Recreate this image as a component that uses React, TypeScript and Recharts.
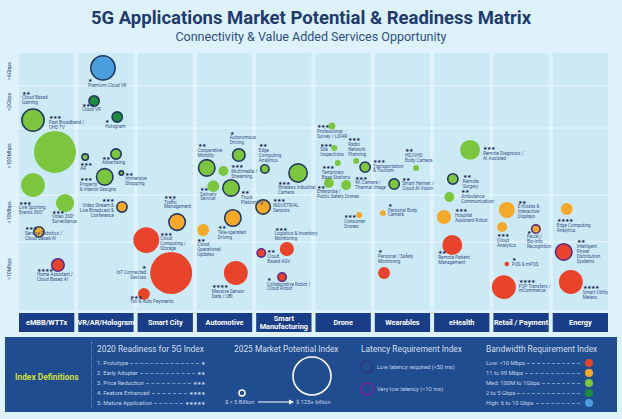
import { ScatterChart, Scatter, XAxis, YAxis, ZAxis, ReferenceArea, ReferenceLine } from "recharts";

const CATEGORIES = [
  "eMBB/WTTx",
  "VR/AR/Hologram",
  "Smart City",
  "Automotive",
  "Smart\nManufacturing",
  "Drone",
  "Wearables",
  "eHealth",
  "Retail / Payment",
  "Energy",
];

// bandwidth rows (vertical scale 0-100, bottom to top)
const BW_TICKS = [16, 38, 60, 81, 93];
const BW_LABELS = ["<10Mbps", ">10Mbps", ">100Mbps", ">2Gbps", ">6Gbps"];
const ROW_BREAKS = [26.5, 44.7, 70.8, 87.2];

const APP_NAMES = [
  "Cloud Based\nGaming", "Fast Broadband /\nUHD TV", "Live Sporting\nEvents 360°", "Video 360°\nSurveillance",
  "Service Robotics /\nCloud Based AI", "Home Assistant /\nCloud Based AI",
  "Premium Cloud VR", "Cloud VR", "Hologram", "AR", "Advertising", "Property\n& Interior Designs",
  "Immersive\nShopping", "Video Stream &\nLive Broadcast &\nConference",
  "Cloud\nComputing /\nStorage", "IoT Connected\nDevices", "Toll & Auto Payments", "Traffic\nManagement",
  "Autonomous\nDriving", "Cooperative\nMobility", "Multimedia /\nStreaming", "Delivery\nService",
  "Truck\nPlatooning", "Tele-operated\nDriving", "Cloud\nOperational\nUpdates", "Massive Sensor\nData / UBI",
  "Edge\nComputing\nAnalytics", "Wireless Industrial\nCamera", "INDUSTRIAL\nSensors",
  "Logistics & Inventory\nMonitoring", "Cloud\nBased AGV", "Collaborative Robot /\nCloud Robot",
  "Professional\nSurvey / LiDAR", "Site\nInspections", "Radio\nNetwork\nPlanning", "Temporary\nBase Stations",
  "Transportation\n& Tourism", "Enterprise /\nPublic Safety Drones", "4K Camera /\nThermal Image", "Consumer\nDrones",
  "HD/UHD\nBody Camera", "Smart Helmet /\nCloud AI Vision", "Personal Body\nCamera", "Personal / Safety\nMonitoring",
  "Remote Diagnosis /\nAI Assisted", "Remote\nSurgery", "Ambulance\nCommunication", "Hospital\nAssistant Robot",
  "Remote Patient\nManagement",
  "E-Kiosks &\nInteractive\nDisplays", "Cloud\nAnalytics", "Facial /\nBio-info\nRecognition", "POS & mPOS",
  "P2P Transfers /\nmCommerce",
  "Edge Computing\nAnalytics", "Intelligent\nPower\nDistribution\nSystems", "Smart Utility\nMeters",
];

// column (category index) of each application
const APP_CAT = [
  0, 0, 0, 0, 0, 0,
  1, 1, 1, 1, 1, 1, 1, 1,
  2, 2, 2, 2,
  3, 3, 3, 3, 3, 3, 3, 3,
  4, 4, 4, 4, 4, 4,
  5, 5, 5, 5, 5, 5, 5, 5,
  6, 6, 6, 6,
  7, 7, 7, 7, 7,
  8, 8, 8, 8, 8,
  9, 9, 9,
];

// place inside the column (0 = left edge, 1 = right edge)
const APP_POS = [
  0.27, 0.64, 0.27, 0.81, 0.37, 0.69,
  0.45, 0.3, 0.69, 0.15, 0.67, 0.48, 0.76, 0.77,
  0.18, 0.6, 0.14, 0.7,
  0.74, 0.2, 0.48, 0.31, 0.61, 0.64, 0.14, 0.69,
  0.18, 0.74, 0.15, 0.55, 0.12, 0.47,
  0.31, 0.35, 0.72, 0.41, 0.87, 0.26, 0.55, 0.77,
  0.73, 0.36, 0.17, 0.19,
  0.64, 0.35, 0.29, 0.2, 0.34,
  0.26, 0.18, 0.75, 0.26, 0.21,
  0.27, 0.22, 0.34,
];

// bandwidth position (0-100)
const APP_Y = [
  73.9, 61.5, 48.6, 41.6, 30.4, 17.5,
  94.2, 81.3, 75.1, 59.5, 60.7, 51.8, 53.3, 40.1,
  27.2, 14.4, 6.2, 34.2,
  60.3, 55.3, 54.1, 48.2, 47.5, 35.8, 31.1, 14.4,
  54.9, 53.3, 40.1, 23.7, 22.2, 12.8,
  71.6, 63.0, 58.0, 57.2, 55.6, 49.4, 48.6, 37.0,
  55.3, 49.0, 37.7, 14.4,
  62.3, 51.0, 44.0, 36.2, 25.3,
  38.9, 32.3, 31.5, 17.9, 8.9,
  39.3, 22.6, 10.9,
];

// 2025 market potential, $ billion
const APP_MARKET = [
  40, 124, 40, 23, 10, 14,
  47, 10, 10, 4.5, 10, 23, 2.5, 10,
  47, 124, 10, 23,
  14, 23, 7, 10, 23, 23, 10, 40,
  7, 28, 18, 14, 7, 7,
  3.5, 2.5, 2.5, 2.5, 10, 7, 7, 2.5,
  2.5, 10, 2.5, 10,
  28, 10, 7, 14, 28,
  18, 7, 7, 1.5, 40,
  10, 23, 40,
];

// 2020 readiness (number of stars)
const APP_READY = [
  2, 3, 3, 3, 3, 4,
  1, 3, 1, 3, 2, 3, 2, 3,
  3, 1, 3, 3,
  1, 2, 3, 2, 2, 2, 2, 4,
  2, 3, 3, 3, 2, 1,
  3, 3, 3, 3, 3, 2, 3, 3,
  2, 2, 1, 1,
  3, 2, 2, 3, 2,
  2, 3, 1, 1, 4,
  4, 2, 4,
];

// bandwidth class: 0 low, 1 11-99M, 2 med, 3 2-5G, 4 high
const APP_BW = [
  2, 2, 2, 2, 1, 0,
  4, 3, 3, 2, 2, 2, 2, 1,
  0, 0, 0, 1,
  2, 2, 2, 2, 2, 1, 1, 0,
  2, 2, 1, 0, 0, 0,
  2, 2, 2, 2, 2, 2, 2, 1,
  2, 2, 1, 0,
  2, 2, 2, 1, 0,
  1, 1, 1, 0, 0,
  1, 0, 0,
];

// latency: 0 none, 1 low (<50ms), 2 very low (<10ms)
const APP_LAT = [
  1, 0, 0, 0, 1, 2,
  1, 1, 1, 1, 1, 1, 1, 1,
  0, 0, 0, 1,
  1, 1, 0, 0, 1, 1, 0, 0,
  1, 1, 1, 0, 2, 2,
  0, 0, 0, 0, 1, 0, 0, 0,
  0, 1, 0, 0,
  0, 1, 0, 0, 0,
  0, 0, 2, 0, 0,
  0, 2, 0,
];

// label offset from bubble centre [dx, dy, anchor]
const LABEL_LAYOUT: [number, number, string][] = [
  [-11, -27, "start"], [-6, -34, "start"], [-14, 18, "start"], [-13, 9, "start"], [-14, -3, "start"], [-21, 5, "start"],
  [-15, 13, "start"], [-12, 4, "start"], [-12, 5, "start"], [-5, 7, "start"], [-14, 4, "start"], [-25, 3, "start"],
  [4, 1, "start"], [-8, -6, "end"],
  [14, -6, "start"], [-25, -5, "end"], [-14, 3, "start"], [-13, -25, "start"],
  [-9, -22, "start"], [-9, -22, "start"], [8, -4, "start"], [-13, 3, "start"], [10, 5, "start"], [-15, 10, "start"],
  [-6, 10, "start"], [-24, 14, "start"],
  [-6, -23, "start"], [-20, 10, "start"], [10, -6, "start"], [-12, -20, "start"], [6, -1, "start"], [-15, 2, "start"],
  [-15, 1, "start"], [-14, -3, "start"], [-8, -21, "start"], [-16, 5, "start"], [8, -6, "start"], [-12, 4, "start"],
  [9, -7, "start"], [-15, 2, "start"],
  [-11, -17, "start"], [8, -5, "start"], [5, -8, "start"], [-6, -21, "start"],
  [13, -1, "start"], [10, -2, "start"], [12, -5, "start"], [11, -6, "start"], [-14, 8, "start"],
  [11, -8, "start"], [-5, 9, "start"], [-9, 3, "start"], [5, -4, "start"], [15, -6, "start"],
  [-10, 12, "start"], [13, -10, "start"], [12, 6, "start"],
];

const READINESS_ROWS = ["1. Prototype", "2. Early Adopter", "3. Price Reduction", "4. Feature Enhanced", "5. Mature Application"];
const BANDWIDTH_ROWS = ["Low: <10 Mbps", "11 to 99 Mbps", "Med: 100M to 1Gbps", "2 to 5 Gbps", "High: 6 to 10 Gbps"];

const BW_COLORS = ["#e8432b", "#f5a92a", "#7cc63f", "#1f8b3c", "#4b9fdc"];
const LAT_STROKE = ["", "#253863", "#5e2b86"];
const NAVY = "#1e3b6d";
const COL_BG = "#cce9f6";
const PAGE_BG = "#def2fb";
const BOX_BLUE = "#193e87";
const PANEL_BLUE = "#1f4d90";
const PANEL_TEXT = "#c6d3e8";

const PLOT_BOTTOM = 310;
const COL_W = 59.3;
const FONT = "Roboto, 'Noto Sans', sans-serif";

const points = APP_NAMES.map((name, i) => ({
  i,
  name,
  x: APP_CAT[i] + APP_POS[i],
  y: APP_Y[i],
  z: APP_MARKET[i],
  stars: APP_READY[i],
  bw: APP_BW[i],
  lat: APP_LAT[i],
}));

function Bubble(props: any) {
  const { cx, cy, width, payload } = props;
  const r = width / 2;
  const stroke = LAT_STROKE[payload.lat];
  return (
    <circle
      cx={cx}
      cy={cy}
      r={stroke ? r - 0.8 : r}
      fill={BW_COLORS[payload.bw]}
      stroke={stroke || "none"}
      strokeWidth={stroke ? 1.6 : 0}
    />
  );
}

function AppLabel(props: any) {
  const { cx, cy, payload } = props;
  const [dx, dy, anchor] = LABEL_LAYOUT[payload.i];
  const lines = payload.name.split("\n");
  const tx = cx + dx;
  return (
    <g fontFamily={FONT}>
      <text x={tx} y={cy + dy} textAnchor={anchor} dominantBaseline="central" fontSize={4.6} fill="#1c2a52">
        {"★".repeat(payload.stars)}
      </text>
      {lines.map((l: string, k: number) => (
        <text key={k} x={tx} y={cy + dy + 4.9 * (k + 1)} textAnchor={anchor} dominantBaseline="central" fontSize={4.6} fill="#3a5588">
          {l}
        </text>
      ))}
    </g>
  );
}

function CategoryTick(props: any) {
  const { x, payload } = props;
  const idx = Math.round(payload.value - 0.5);
  const lines = CATEGORIES[idx].split("\n");
  const w = COL_W - 4;
  const top = PLOT_BOTTOM + 3;
  return (
    <g>
      <rect x={x - w / 2} y={top} width={w} height={19} fill={BOX_BLUE} />
      {lines.map((l, k) => (
        <text
          key={k}
          x={x}
          y={top + 9.5 + (k - (lines.length - 1) / 2) * 8}
          textAnchor="middle"
          dominantBaseline="central"
          fontSize={7.3}
          fontWeight={700}
          fill="#ffffff"
          fontFamily={FONT}
        >
          {l}
        </text>
      ))}
    </g>
  );
}

function BwTick(props: any) {
  const { y, payload } = props;
  const idx = BW_TICKS.indexOf(payload.value);
  return (
    <text
      x={9}
      y={y}
      transform={`rotate(-90, 9, ${y})`}
      textAnchor="middle"
      dominantBaseline="central"
      fontSize={5.3}
      fill="#2c4a7a"
      fontFamily={FONT}
    >
      {BW_LABELS[idx]}
    </text>
  );
}

function Legend() {
  const small = { position: "absolute" as const, fontSize: 5.8, color: PANEL_TEXT, lineHeight: "8px", whiteSpace: "nowrap" as const };
  const head = { position: "absolute" as const, fontSize: 8.4, color: "#d4deec", top: 7, whiteSpace: "nowrap" as const };
  const leader = { flex: 1, borderBottom: "1px dashed rgba(200,215,235,0.55)", margin: "0 2px", height: 0 };
  return (
    <div
      style={{
        position: "absolute",
        left: 5,
        top: 337,
        width: 612,
        height: 75,
        background: PANEL_BLUE,
        fontFamily: FONT,
      }}
    >
      <div style={{ position: "absolute", left: 10, top: 35, fontSize: 8.4, fontWeight: 700, color: "#cfdf3a", whiteSpace: "nowrap" }}>
        Index Definitions
      </div>
      <div style={{ position: "absolute", left: 86, top: 5, height: 66, borderLeft: "1px dotted rgba(190,205,230,0.5)" }} />

      <div style={{ ...head, left: 92 }}>2020 Readiness for 5G Index</div>
      {READINESS_ROWS.map((t, k) => (
        <div key={t} style={{ ...small, left: 92, top: 22 + k * 10, width: 108, display: "flex", alignItems: "center" }}>
          <span>{t}</span>
          <span style={leader} />
          <span style={{ fontSize: 5 }}>{"★".repeat(k + 1)}</span>
        </div>
      ))}

      <div style={{ ...head, left: 229 }}>2025 Market Potential Index</div>
      <svg style={{ position: "absolute", left: 0, top: 0 }} width={612} height={75}>
        <circle cx={237} cy={56} r={3} fill="none" stroke="#ffffff" strokeWidth={1.5} />
        <circle cx={307} cy={39} r={19} fill="none" stroke="#ffffff" strokeWidth={1.6} />
        <line x1={253} y1={65} x2={284} y2={65} stroke="#ffffff" strokeWidth={1} />
        <path d="M284,62.5 L289,65 L284,67.5 Z" fill="#ffffff" />
        <circle cx={362} cy={30} r={6} fill="none" stroke="#2e3a80" strokeWidth={2} />
        <circle cx={362} cy={52} r={6} fill="none" stroke="#6a2c9c" strokeWidth={2} />
        {BW_COLORS.map((c, k) => (
          <circle key={c} cx={584} cy={26 + k * 10} r={4} fill={c} />
        ))}
      </svg>
      <div style={{ ...small, left: 220, top: 61 }}>$ &lt; 5 Billion</div>
      <div style={{ ...small, left: 291, top: 61 }}>$ 125+ billion</div>

      <div style={{ ...head, left: 356 }}>Latency Requirement Index</div>
      <div style={{ ...small, left: 372, top: 26 }}>Low latency required (&lt;50 ms)</div>
      <div style={{ ...small, left: 372, top: 48 }}>Very low latency (&lt;10 ms)</div>

      <div style={{ ...head, left: 481 }}>Bandwidth Requirement Index</div>
      {BANDWIDTH_ROWS.map((t, k) => (
        <div key={t} style={{ ...small, left: 481, top: 22 + k * 10, width: 96, display: "flex", alignItems: "center" }}>
          <span>{t}</span>
          <span style={leader} />
        </div>
      ))}
    </div>
  );
}

export default function App() {
  return (
    <div style={{ position: "relative", width: 622, height: 419, background: PAGE_BG, fontFamily: FONT, overflow: "hidden" }}>
      <style>{"body{margin:0}"}</style>
      <div style={{ position: "absolute", top: 7, width: 622, textAlign: "center", fontSize: 18.5, fontWeight: 700, color: NAVY }}>
        5G Applications Market Potential &amp; Readiness Matrix
      </div>
      <div style={{ position: "absolute", top: 29, width: 622, textAlign: "center", fontSize: 12.5, color: "#2c4f85" }}>
        Connectivity &amp; Value Added Services Opportunity
      </div>
      <div style={{ position: "absolute", left: 0, top: 0 }}>
        <ScatterChart width={622} height={340} margin={{ top: 53, right: 12, bottom: 0, left: 5 }}>
          <XAxis
            dataKey="x"
            type="number"
            domain={[0, 10]}
            ticks={[0.5, 1.5, 2.5, 3.5, 4.5, 5.5, 6.5, 7.5, 8.5, 9.5]}
            interval={0}
            tick={<CategoryTick />}
            axisLine={false}
            tickLine={false}
            height={30}
          />
          <YAxis
            dataKey="y"
            type="number"
            domain={[0, 100]}
            ticks={BW_TICKS}
            interval={0}
            tick={<BwTick />}
            axisLine={false}
            tickLine={false}
            width={12}
          />
          <ZAxis dataKey="z" type="number" domain={[0, 130]} range={[0, 1452]} />
          {CATEGORIES.map((c, i) => (
            <ReferenceArea key={c} x1={i + 0.035} x2={i + 0.965} y1={0} y2={100} fill={COL_BG} fillOpacity={1} stroke="none" />
          ))}
          {ROW_BREAKS.map((v) => (
            <ReferenceLine key={v} y={v} stroke="#ecf8fd" strokeWidth={1} />
          ))}
          <Scatter data={points} shape={<Bubble />} isAnimationActive={false} />
          <Scatter data={points} shape={<AppLabel />} isAnimationActive={false} />
        </ScatterChart>
      </div>
      <Legend />
    </div>
  );
}
